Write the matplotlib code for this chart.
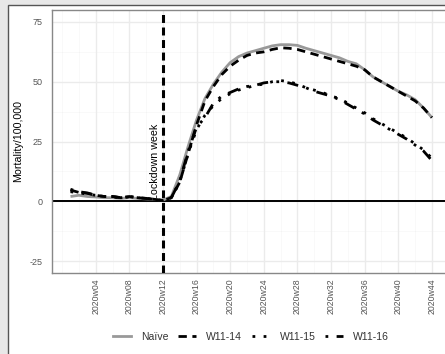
import matplotlib
matplotlib.use("Agg")
import matplotlib.pyplot as plt
from matplotlib.patches import Rectangle
from matplotlib.lines import Line2D
import numpy as np

plt.rcParams['font.family'] = ['Liberation Sans', 'DejaVu Sans']

weeks = list(range(1, 45))
naive = [2.0, 2.5, 2.0, 1.8, 1.5, 1.5, 1.2, 1.5, 1.2, 1.0, 0.8, 0.5,
         2.0, 11.0, 23.0, 34.0, 43.0, 49.0, 54.0, 58.0, 60.5, 62.0, 63.0, 64.0,
         65.0, 65.5, 65.5, 65.2, 64.0, 63.0, 62.0, 61.0, 60.0, 58.5, 57.5, 55.0,
         52.0, 50.0, 48.0, 46.0, 44.5, 42.5, 39.0, 35.0]
w11_14 = [4.7, 3.7, 3.3, 2.5, 2.0, 2.0, 1.5, 2.0, 1.5, 1.2, 0.8, 0.3,
          1.5, 8.0, 20.0, 32.0, 42.0, 48.0, 53.0, 56.5, 59.0, 61.0, 62.0, 62.5,
          63.5, 64.2, 64.0, 63.5, 62.5, 61.5, 60.5, 59.5, 58.5, 57.5, 56.5, 55.0,
          52.0, 50.0, 48.0, 46.0, 44.0, 42.0, 39.0, 35.0]
w11_15 = [4.0, 3.5, 3.0, 2.5, 2.0, 1.8, 1.5, 1.8, 1.5, 1.2, 0.8, 0.3,
          1.5, 8.0, 20.0, 30.0, 36.0, 40.0, 43.0, 45.0, 46.5, 47.5, 48.5, 49.0,
          50.0, 50.5, 50.0, 49.0, 47.5, 46.5, 45.5, 44.0, 43.0, 41.0, 39.0, 37.0,
          34.5, 32.5, 30.5, 28.5, 26.5, 24.0, 21.5, 18.0]
w11_16 = [5.0, 4.0, 3.5, 2.5, 2.0, 2.0, 1.5, 2.0, 1.5, 1.2, 0.8, 0.3,
          1.5, 8.5, 21.0, 31.0, 35.0, 41.0, 44.0, 45.5, 47.0, 48.0, 48.5, 49.5,
          50.0, 50.0, 49.5, 48.5, 47.5, 46.0, 45.0, 44.0, 42.5, 40.5, 38.5, 36.5,
          34.0, 32.0, 30.0, 28.0, 26.0, 23.5, 21.0, 17.0]
x_ticks = list(range(4, 45, 4))
x_labels = ["2020w%02d" % w for w in x_ticks]
y_ticks = [-25, 0, 25, 50, 75]
y_labels = ["-25", "0", "25", "50", "75"]
lockdown = 12

W, H = 445, 354
fig = plt.figure(figsize=(W / 100, H / 100), dpi=100)
fig.patch.set_facecolor('#e8e8e8')
fig.patches.append(Rectangle((8 / W, -0.1), 1.2, 1.1 - 5 / H, transform=fig.transFigure,
                             facecolor='white', edgecolor='#555555', lw=1.0, zorder=-5))

ax = fig.add_axes([52 / W, 1 - 273 / H, 398 / W, 263 / H])
ax.set_zorder(1)
ax.set_facecolor('white')
ax.set_xlim(-1.2, 46.15)
ax.set_ylim(-30, 80)

# grid
for yv in [-12.5, 12.5, 37.5, 62.5]:
    ax.axhline(yv, color='#000000', alpha=0.025, lw=0.8, zorder=0.5)
for xv in [0, 2] + list(range(6, 47, 4)):
    ax.axvline(xv, color='#000000', alpha=0.025, lw=0.8, zorder=0.5)
for yv in y_ticks:
    ax.axhline(yv, color='#ebebeb', lw=1.0, zorder=0.6)
for xv in x_ticks:
    ax.axvline(xv, color='#ebebeb', lw=1.0, zorder=0.6)

ax.axhline(0, color='black', lw=1.4, zorder=2)
ax.axvline(lockdown, color='black', lw=2.2, dashes=(2.6, 1.5), zorder=3)
ax.text(lockdown - 0.4, 0.5, "Lockdown week", rotation=90, ha='right', va='bottom',
        fontsize=7.7, color='black', zorder=4)

ax.plot(weeks, naive, color='#999999', lw=2.0, solid_capstyle='butt', label='Naïve', zorder=4)
ax.plot(weeks, w11_14, color='black', lw=2.0, dashes=(3, 2), label='W11-14', zorder=5)
ax.plot(weeks, w11_15, color='black', lw=2.0, dashes=(1, 3), label='W11-15', zorder=5)
ax.plot(weeks, w11_16, color='black', lw=2.0, dashes=(1, 3, 4, 3), label='W11-16', zorder=5)

ax.set_xticks(x_ticks)
ax.set_xticklabels(x_labels, rotation=90, fontsize=6.3, color='#555555')
ax.set_yticks(y_ticks)
ax.set_yticklabels(y_labels, fontsize=6.5, color='#555555')
ax.tick_params(axis='both', length=0)
ax.tick_params(axis='x', pad=3.6)
ax.tick_params(axis='y', pad=7)
for s in ax.spines.values():
    s.set_color('#888888')
    s.set_linewidth(1.0)

fig.text(18 / W, 1 - 141 / H, "Mortality/100,000", rotation=90, ha='center', va='center',
         fontsize=7.7, color='black')

handles = [Line2D([], [], color='#999999', lw=2.0),
           Line2D([], [], color='black', lw=2.0, dashes=(3, 2)),
           Line2D([], [], color='black', lw=2.0, dashes=(1, 3)),
           Line2D([], [], color='black', lw=2.0, dashes=(1, 3, 4, 3))]
fig.legend(handles, ['Naïve', 'W11-14', 'W11-15', 'W11-16'], loc='center',
           bbox_to_anchor=(251 / W, 1 - 337 / H), ncol=4, frameon=False,
           fontsize=7.5, handlelength=1.7, handletextpad=1.0, columnspacing=0.9,
           labelcolor='#333333')

fig.savefig('out.png', dpi=100, facecolor=fig.get_facecolor())
